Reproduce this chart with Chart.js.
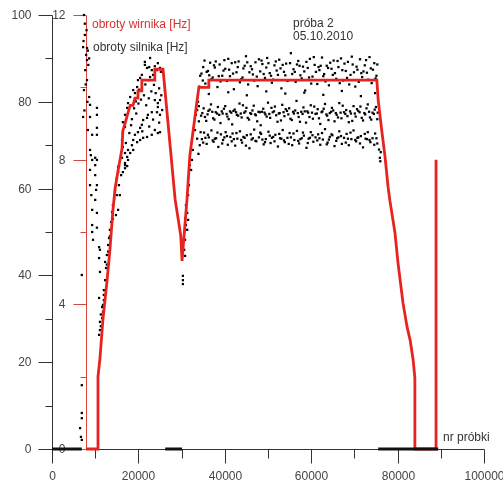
<!DOCTYPE html>
<html>
<head>
<meta charset="utf-8">
<script src="https://cdn.jsdelivr.net/npm/chart.js@4/dist/chart.umd.min.js"></script>
<style>
html, body { margin: 0; padding: 0; background: #fff; }
#wrap { position: relative; width: 503px; height: 482px; }
</style>
</head>
<body>
<div id="wrap"><canvas id="myChart" width="503" height="482"></canvas></div>
<script>
// nr próbki podany w tysiącach
const xTicks = [0, 20, 40, 60, 80, 100];
const xMinorTicks = [10, 30, 50, 70, 90];
const xTickLabels = ['0', '20000', '40000', '60000', '80000', '100000'];
const yTicks = [0, 20, 40, 60, 80, 100];
const yMinorTicks = [10, 30, 50, 70, 90];
const hzTicks = [0, 4, 8, 12];
const hzMinorTicks = [2, 6, 10];

// obroty wirnika [Hz]
const wirnikX = [7.9, 10.65, 10.65, 11.1, 11.8, 12.7, 13.4, 14.1, 14.6, 15.3, 16.2, 16.4, 16.9, 17.6, 18.1, 18.75, 19.2, 19.9, 19.9, 20.8, 20.8, 23.8, 23.8, 25.7,
    28.5, 29.8, 30.1, 31.25, 31.9, 33.6, 34.0, 36.3, 36.3,
    75.2, 75.5, 76.4, 77.1, 77.8, 78.2, 79.4, 80.1, 81.25, 82.2, 82.9, 83.6, 84.0, 84.0, 88.9, 88.9];
const wirnikHz = [0, 0, 2.0, 2.5, 3.6, 4.6, 5.5, 6.6, 7.2, 7.7, 8.3, 8.8, 9.0, 9.3, 9.5, 9.5, 9.7, 9.7, 9.9, 9.9, 10.2, 10.2, 10.5, 10.5,
    6.9, 5.9, 5.2, 6.9, 8.1, 9.65, 10.0, 10.0, 10.2,
    10.2, 9.65, 8.74, 8.07, 7.24, 6.88, 5.97, 5.14, 4.04, 3.37, 3.01, 2.46, 1.96, 0, 0, 8.0];

// próbki o wartości 0
const zeroStart = [0, 26.2, 75.5];
const zeroEnd = [6.9, 30.1, 89.4];

// obroty silnika [Hz] - pary (x, y)
const silnikStart = [7.4,100, 7.6,95.4, 7.2,92.6, 8.1,92.4, 8.3,91.8, 7.9,90.8, 8.1,89.6, 8.6,90.0, 7.7,87.3, 8.1,85.0,
    7.4,82.7, 8.6,81.1, 8.8,79.3, 10.4,78.6, 10.4,77.0, 8.8,76.5, 7.2,76.5, 10.4,74.0, 8.3,73.5, 9.3,72.4,
    10.4,72.4, 8.8,68.9, 9.0,67.7, 10.0,67.1, 9.3,66.6, 10.4,66.6, 10.0,65.4, 8.8,64.3, 10.0,63.1, 8.8,60.8,
    10.4,60.8, 10.2,59.7, 9.1,58.5, 10.0,57.4, 9.3,55.1, 10.4,54.4, 9.3,51.6, 10.4,51.0, 9.3,50.0, 10.9,46.5,
    9.5,48.2, 11.1,45.9, 10.9,44.0, 6.9,40.1, 11.1,40.8, 10.9,34.8, 6.9,14.7, 6.9,8.3, 6.9,7.1, 6.5,4.8, 6.7,2.8, 6.9,2.1,
    7.6,98.0, 8.0,96.5, 7.3,94.0, 8.4,88.5, 7.8,84.0, 8.2,80.0, 7.5,78.0];
const silnikRise = [10.9,26.3, 11.1,27.4, 11.3,28.3, 11.1,29.3, 11.6,30.2, 11.8,31.6, 11.6,32.7, 11.8,33.2, 12.0,34.3, 12.0,36.6,
    12.3,38.9, 12.5,41.7, 12.3,43.1, 12.7,44.7, 13.0,47.0, 13.2,48.6, 13.4,50.5, 13.7,52.3, 13.9,54.6, 14.1,56.2,
    14.4,57.8, 14.6,59.7, 14.8,60.8, 15.0,62.4, 15.3,63.8, 15.5,65.2, 15.0,58.5, 15.5,60.8, 16.0,63.1, 15.3,55.1,
    14.8,53.9, 15.7,58.5, 16.4,63.8, 16.9,64.7, 17.4,65.2, 12.7,42.5, 13.0,45.5, 13.4,49.0, 14.1,53.0, 12.0,35.5, 11.3,31.0];
const silnikHump = [21.5,88.5, 22.0,87.8, 22.5,88.0, 23.1,87.3, 23.4,86.2, 22.7,85.7, 24.3,87.3, 25.0,87.8, 20.8,86.2, 20.4,85.5,
    19.9,85.0, 19.7,83.4, 18.8,82.7, 19.2,82.0, 18.1,81.1, 17.6,79.7, 17.4,78.6, 16.9,77.0, 16.4,75.3, 16.9,74.2,
    16.4,72.8, 16.2,71.2, 16.4,69.6, 16.9,68.2, 16.2,67.1, 15.3,65.0, 21.5,89.2, 22.7,90.1, 24.5,88.9, 25.2,86.9, 23.8,88.2,
    23.8,80.4, 24.5,79.7, 25.0,80.4, 24.5,78.8, 24.3,77.6, 25.0,77.0, 25.5,78.1, 23.1,77.6, 22.2,77.0, 22.0,76.3,
    21.1,75.8, 20.8,74.7, 20.4,74.0, 19.9,73.0, 19.2,72.4, 18.8,71.2, 18.5,70.0, 17.6,68.9, 17.4,67.3, 16.9,65.9,
    23.8,73.5, 24.5,72.8, 25.0,73.0, 23.1,72.4, 22.0,71.9, 21.1,71.7, 20.4,71.2, 19.7,70.7, 18.8,68.9, 18.1,68.2, 17.6,66.6, 16.9,65.4,
    18.5,76.0, 19.0,78.5, 19.5,77.3, 20.0,79.6, 20.6,80.5, 21.3,81.5, 21.8,79.2, 22.4,80.8, 23.0,82.4, 23.6,83.9,
    24.0,82.0, 24.8,83.1, 25.3,81.5, 21.6,84.0, 22.3,85.0, 20.2,82.8, 19.4,80.1, 18.3,74.6, 20.9,73.2, 22.5,74.3,
    23.4,75.9, 24.8,75.2, 17.9,72.8, 17.1,70.5];
const silnikDip = [30.3,38.0, 30.3,38.9, 30.3,39.9, 30.6,45.9, 30.8,48.2, 30.6,50.0, 31.0,51.6, 30.8,53.2, 31.3,54.4, 31.0,56.2,
    31.5,58.5, 31.7,60.8, 31.5,62.4, 32.2,64.3, 31.9,65.4, 32.4,66.6, 32.6,68.9, 33.1,73.5, 33.3,77.0, 33.6,78.1,
    31.3,50.5, 31.5,52.8, 30.8,44.5, 33.8,80.0, 34.0,75.5, 34.2,70.0, 33.9,68.0, 34.1,83.5, 34.3,86.0, 33.6,71.5, 34.4,73.0, 34.0,79.0];
const silnikHigh = [34.6,86.5, 35.0,88.0, 35.5,84.2, 36.1,87.1, 36.6,89.0, 37.2,85.6, 37.7,87.9, 38.3,83.4, 38.8,88.6, 39.4,86.0,
    39.9,89.6, 40.5,84.8, 41.0,87.4, 41.6,88.9, 42.1,82.9, 42.7,86.8, 43.2,89.3, 43.8,85.2, 44.3,87.7, 44.9,90.5,
    45.4,84.0, 46.0,88.2, 46.5,86.3, 47.1,89.1, 47.6,83.6, 48.2,87.0, 48.7,88.7, 49.3,85.5, 49.8,90.1, 50.4,86.6,
    50.9,84.4, 51.5,88.4, 52.0,87.2, 52.6,89.7, 53.1,83.1, 53.7,86.9, 54.2,88.8, 54.8,85.0, 55.3,91.2, 55.9,87.5,
    56.4,84.6, 57.0,89.4, 57.5,86.1, 58.1,88.1, 58.6,82.6, 59.2,87.8, 59.7,89.9, 60.3,85.8, 60.8,88.5, 61.4,84.1,
    61.9,87.3, 62.5,90.2, 63.0,86.4, 63.6,88.3, 64.1,83.8, 64.7,87.6, 65.2,89.5, 65.8,85.3, 66.3,88.0, 66.9,90.0,
    67.4,84.9, 68.0,87.1, 68.5,89.2, 69.1,86.2, 69.6,88.6, 70.2,83.5, 70.7,87.4, 71.3,89.8, 71.8,85.7, 72.4,88.4,
    72.9,86.7, 73.5,90.3, 74.0,84.3, 74.6,88.9, 75.1,86.0,
    34.9,84.9, 35.8,86.9, 36.9,85.2, 37.9,89.3, 39.0,84.7, 40.1,87.6, 41.2,85.9, 42.4,89.1, 43.5,84.5, 44.6,88.3,
    45.7,86.8, 46.8,84.9, 47.9,89.8, 49.0,86.4, 50.1,88.9, 51.2,85.1, 52.3,86.2, 53.4,88.5, 54.5,84.8, 55.6,86.4,
    56.7,88.6, 57.8,85.4, 58.9,89.2, 60.0,84.2, 61.1,86.9, 62.2,88.3, 63.3,84.7, 64.4,89.0, 65.5,86.6, 66.6,84.3,
    67.7,88.8, 68.8,84.0, 69.9,86.8, 71.0,84.6, 72.1,87.0, 73.2,85.1, 74.3,87.4, 75.3,88.6,
    36.3,81.8, 40.8,82.2, 45.1,81.5, 49.6,82.4, 54.0,81.9, 58.4,82.1, 62.8,81.6, 67.1,82.5, 71.5,81.3, 74.8,82.0,
    35.3,89.5, 36.4,86.1, 37.5,88.4, 38.6,85.9, 39.7,87.2, 40.8,89.9, 41.9,86.5, 43.0,88.0, 44.1,85.6, 45.2,89.1,
    46.3,87.5, 47.4,85.8, 48.5,89.5, 49.6,87.9, 50.7,86.0, 51.8,89.3, 52.9,87.7, 54.0,86.1, 55.1,88.9, 56.2,86.9,
    57.3,88.3, 58.4,87.0, 59.5,85.6, 60.6,90.3, 61.7,88.0, 62.8,85.9, 63.9,87.8, 65.0,86.2, 66.1,89.4, 67.2,87.3,
    68.3,85.5, 69.4,90.4, 70.5,88.1, 71.6,86.6, 72.7,89.6, 73.8,87.7, 74.9,85.4];
const silnikMid = [34.5,76.8, 35.1,78.5, 35.7,75.6, 36.2,77.9, 36.8,79.4, 37.3,76.2, 37.9,77.6, 38.4,78.8, 39.0,75.1, 39.5,77.3,
    40.1,79.0, 40.6,76.6, 41.2,77.8, 41.7,74.8, 42.3,78.2, 42.8,77.0, 43.4,79.6, 43.9,76.4, 44.5,77.5, 45.0,78.6,
    45.6,75.9, 46.1,77.2, 46.7,79.1, 47.2,76.9, 47.8,77.7, 48.3,74.6, 48.9,78.4, 49.4,77.1, 50.0,79.8, 50.5,76.3,
    51.1,77.6, 51.6,78.9, 52.2,75.4, 52.7,77.4, 53.3,79.3, 53.8,76.7, 54.4,77.9, 54.9,78.5, 55.5,75.8, 56.0,77.3,
    56.6,80.2, 57.1,76.5, 57.7,77.7, 58.2,78.7, 58.8,75.2, 59.3,77.5, 59.9,79.2, 60.4,76.1, 61.0,77.2, 61.5,78.3,
    62.1,74.9, 62.6,77.8, 63.2,79.5, 63.7,76.8, 64.3,77.4, 64.8,78.6, 65.4,75.5, 65.9,77.0, 66.5,79.7, 67.0,76.2,
    67.6,77.6, 68.1,78.1, 68.7,75.3, 69.2,77.3, 69.8,79.0, 70.3,76.6, 70.9,77.9, 71.4,78.9, 72.0,75.7, 72.5,77.1,
    73.1,79.4, 73.6,76.4, 74.2,77.5, 74.7,78.2, 75.3,76.0,
    34.8,77.4, 36.0,77.1, 37.1,77.7, 38.2,77.3, 39.3,77.8, 40.4,77.2, 41.5,77.5, 42.6,77.6, 43.7,77.3, 44.8,77.8,
    45.9,77.4, 47.0,77.1, 48.1,77.6, 49.2,77.5, 50.3,77.2, 51.4,77.8, 52.5,77.3, 53.6,77.6, 54.7,77.1, 55.8,77.7,
    56.9,77.4, 58.0,77.2, 59.1,77.8, 60.2,77.5, 61.3,77.3, 62.4,77.6, 63.5,77.1, 64.6,77.7, 65.7,77.4, 66.8,77.5,
    67.9,77.2, 69.0,77.8, 70.1,77.3, 71.2,77.6, 72.3,77.4, 73.4,77.7, 74.5,77.2, 75.4,77.5,
    35.4,76.5, 36.5,78.2, 37.6,75.9, 38.7,77.0, 39.8,78.4, 40.9,76.0, 42.0,77.9, 43.1,76.8, 44.2,79.2, 45.3,76.3,
    46.4,78.0, 47.5,75.5, 48.6,77.7, 49.7,76.6, 50.8,78.6, 51.9,76.9, 53.0,75.7, 54.1,78.3, 55.2,76.1, 56.3,78.0,
    57.4,75.4, 58.5,77.8, 59.6,76.5, 60.7,78.9, 61.8,76.2, 62.9,78.4, 64.0,75.8, 65.1,78.0, 66.2,76.4, 67.3,79.1,
    68.4,76.7, 69.5,75.6, 70.6,78.3, 71.7,76.3, 72.8,78.5, 73.9,75.9, 75.0,78.8];
const silnikLow = [34.7,71.4, 35.2,72.9, 35.8,70.3, 36.3,71.8, 36.9,73.4, 37.4,70.8, 38.0,71.6, 38.5,69.6, 39.1,72.5, 39.6,71.2,
    40.2,73.0, 40.7,70.1, 41.3,71.9, 41.8,72.7, 42.4,69.9, 42.9,71.5, 43.5,73.2, 44.0,70.6, 44.6,71.7, 45.1,72.3,
    45.7,69.3, 46.2,71.3, 46.8,73.6, 47.3,70.9, 47.9,71.8, 48.4,72.6, 49.0,70.2, 49.5,71.4, 50.1,73.1, 50.6,70.5,
    51.2,71.9, 51.7,72.4, 52.3,69.7, 52.8,71.6, 53.4,73.5, 53.9,70.7, 54.5,71.7, 55.0,72.8, 55.6,70.0, 56.1,71.2,
    56.7,73.3, 57.2,70.4, 57.8,71.6, 58.3,72.2, 58.9,69.4, 59.4,71.5, 59.9,73.0, 60.5,70.8, 61.0,71.8, 61.6,72.5,
    62.1,70.1, 62.7,71.3, 63.2,73.7, 63.8,70.6, 64.3,71.9, 64.9,72.3, 65.4,69.8, 66.0,71.6, 66.5,73.2, 67.1,70.3,
    67.6,71.7, 68.2,72.6, 68.7,70.0, 69.3,71.4, 69.8,73.4, 70.4,70.9, 70.9,71.8, 71.5,72.1, 72.0,69.5, 72.6,71.5,
    73.1,73.0, 73.7,70.7, 74.2,71.6, 74.8,72.7, 75.3,70.4,
    35.5,71.7, 37.7,71.5, 39.9,71.8, 42.1,71.4, 44.3,71.9, 46.5,71.6, 48.7,71.3, 50.9,71.7, 53.1,71.5, 55.3,71.8,
    57.5,71.4, 59.7,71.7, 61.9,71.6, 64.1,71.3, 66.3,71.8, 68.5,71.5, 70.7,71.7, 72.9,71.4, 75.1,71.6,
    35.0,70.6, 36.1,72.4, 37.2,71.1, 38.3,72.9, 39.4,70.4, 40.5,72.1, 41.6,70.9, 42.7,72.8, 43.8,71.2, 44.9,69.9,
    46.0,72.5, 47.1,71.0, 48.2,72.9, 49.3,70.7, 50.4,72.2, 51.5,70.9, 52.6,72.6, 53.7,71.1, 54.8,70.3, 55.9,72.7,
    57.0,71.0, 58.1,72.9, 59.2,70.5, 60.3,72.3, 61.4,71.1, 62.5,72.8, 63.6,70.2, 64.7,72.5, 65.8,71.0, 66.9,72.1,
    68.0,70.6, 69.1,72.9, 70.2,71.2, 71.3,70.4, 72.4,72.6, 73.5,71.2, 74.6,70.1,
    75.9,67.1, 76.1,68.4, 75.7,69.0, 76.0,66.3];

const hzAxisAt = 7.9; // położenie osi Hz na osi x

const toPoints = (flat) => {
    const pts = [];
    for (let i = 0; i < flat.length; i += 2) pts.push({ x: flat[i], y: flat[i + 1] });
    return pts;
};

const silnikData = [silnikStart, silnikRise, silnikHump, silnikDip, silnikHigh, silnikMid, silnikLow].flatMap(toPoints);
const wirnikData = wirnikX.map((x, i) => ({ x: x, y: wirnikHz[i] }));
const zeroData = [];
zeroStart.forEach((s, i) => {
    zeroData.push({ x: s, y: 0 }, { x: zeroEnd[i], y: 0 }, { x: zeroEnd[i], y: null });
});

const FONT = '12px "Liberation Sans", Arial, sans-serif';

const axesPlugin = {
    id: 'axes',
    beforeDatasetsDraw(chart) {
        const { ctx } = chart;
        const { x, y, yHz } = chart.scales;
        const seg = (x1, y1, x2, y2) => {
            ctx.beginPath();
            ctx.moveTo(x1, y1);
            ctx.lineTo(x2, y2);
            ctx.stroke();
        };
        const r = (v) => Math.round(v) + 0.5;
        ctx.save();
        ctx.font = FONT;
        ctx.lineWidth = 1;

        // oś obrotów silnika
        const x0 = r(x.getPixelForValue(0));
        const y0 = r(y.getPixelForValue(0));
        ctx.strokeStyle = '#333';
        ctx.fillStyle = '#444';
        seg(x0, y0, x0, r(y.getPixelForValue(100)));
        ctx.textAlign = 'right';
        ctx.textBaseline = 'middle';
        yTicks.forEach((t) => {
            const py = r(y.getPixelForValue(t));
            seg(x0 - 14, py, x0, py);
            ctx.fillText(String(t), x0 - 21, py);
        });
        yMinorTicks.forEach((t) => {
            const py = r(y.getPixelForValue(t));
            seg(x0 - 7, py, x0, py);
        });

        // oś x
        seg(x0, y0, r(x.getPixelForValue(100)), y0);
        ctx.textAlign = 'center';
        xTicks.forEach((t, i) => {
            const px = r(x.getPixelForValue(t));
            seg(px, y0, px, y0 + 14);
            ctx.fillText(xTickLabels[i], px, y0 + 27);
        });
        xMinorTicks.forEach((t) => {
            const px = r(x.getPixelForValue(t));
            seg(px, y0, px, y0 + 9);
        });

        // oś obrotów wirnika
        const xr = r(x.getPixelForValue(hzAxisAt));
        ctx.strokeStyle = '#d9443f';
        seg(xr, r(yHz.getPixelForValue(0)), xr, r(yHz.getPixelForValue(12)));
        ctx.textAlign = 'right';
        hzTicks.forEach((t) => {
            const py = r(yHz.getPixelForValue(t));
            seg(xr - 13, py, xr, py);
            ctx.fillText(String(t), xr - 21, py);
        });
        hzMinorTicks.forEach((t) => {
            const py = r(yHz.getPixelForValue(t));
            seg(xr - 6, py, xr, py);
        });

        // opisy
        ctx.textAlign = 'left';
        ctx.fillStyle = '#d9322e';
        ctx.fillText('obroty wirnika [Hz]', 92, 25);
        ctx.fillStyle = '#333';
        ctx.fillText('obroty silnika [Hz]', 93, 48);
        ctx.fillText('próba 2', 293, 24);
        ctx.fillText('05.10.2010', 293, 37);
        ctx.fillText('nr próbki', 443, 438);
        ctx.restore();
    }
};

const renderChart = () => {
    const ctx = document.getElementById('myChart').getContext('2d');
    new Chart(ctx, {
        type: 'scatter',
        data: {
            datasets: [
                {
                    label: 'zero',
                    type: 'line',
                    data: zeroData,
                    borderColor: '#111',
                    borderWidth: 3,
                    pointRadius: 0,
                    spanGaps: false,
                    yAxisID: 'y',
                    clip: false,
                    order: 0
                },
                {
                    label: 'obroty wirnika [Hz]',
                    type: 'line',
                    data: wirnikData,
                    borderColor: '#e8231f',
                    borderWidth: 2.8,
                    pointRadius: 0,
                    tension: 0,
                    yAxisID: 'yHz',
                    clip: false,
                    order: 1
                },
                {
                    label: 'obroty silnika [Hz]',
                    data: silnikData,
                    backgroundColor: '#000',
                    pointStyle: 'rect',
                    pointRadius: 1.6,
                    pointBorderWidth: 0,
                    borderWidth: 0,
                    yAxisID: 'y',
                    clip: false,
                    order: 2
                }
            ]
        },
        options: {
            responsive: false,
            animation: false,
            layout: { padding: { left: 52, right: 19, top: 15, bottom: 33 } },
            plugins: { legend: { display: false }, tooltip: { enabled: false } },
            scales: {
                x: { type: 'linear', min: 0, max: 100, display: false },
                y: { min: 0, max: 100, display: false },
                yHz: { min: 0, max: 12, display: false }
            }
        },
        plugins: [axesPlugin]
    });
};

document.addEventListener('DOMContentLoaded', renderChart);
</script>
</body>
</html>
